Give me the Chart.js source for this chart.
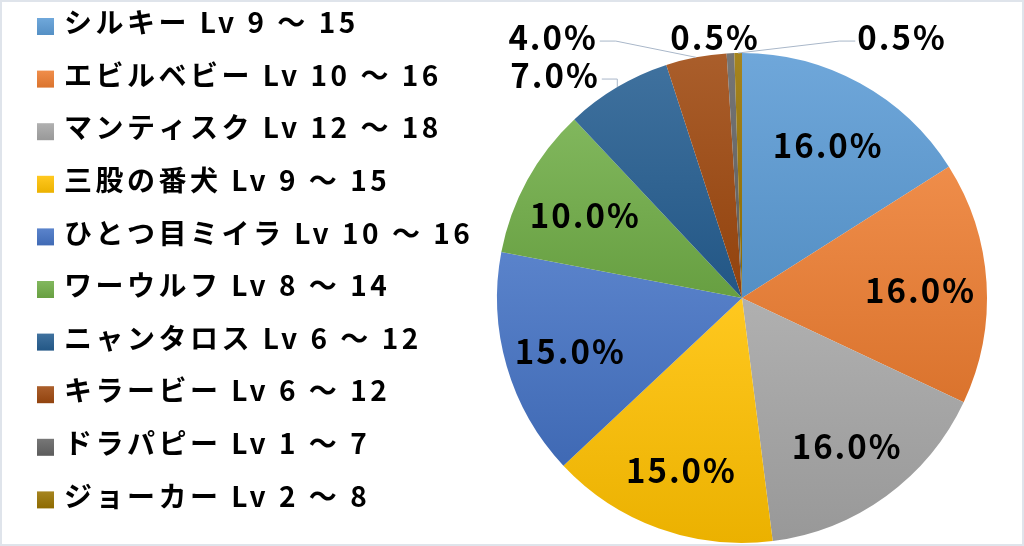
<!DOCTYPE html>
<html lang="ja">
<head>
<meta charset="utf-8">
<script src="https://cdn.jsdelivr.net/npm/chart.js@4.4.0/dist/chart.umd.min.js"></script>
<style>
    html, body { margin: 0; padding: 0; background: #fff; }
    #wrap { position: relative; width: 1024px; height: 546px; overflow: hidden; }
    #wrap:after {
        content: ''; position: absolute; left: 0; top: 0; right: 0; bottom: 0;
        border: 2px solid #dfe4eb; pointer-events: none;
    }
</style>
</head>
<body>
<div id="wrap"><canvas id="pie" width="1024" height="546"></canvas></div>
<script>
// データ
const monsters = ['シルキー', 'エビルベビー', 'マンティスク', '三股の番犬', 'ひとつ目ミイラ',
                  'ワーウルフ', 'ニャンタロス', 'キラービー', 'ドラパピー', 'ジョーカー'];
const levelRanges = ['Lv 9 ～ 15', 'Lv 10 ～ 16', 'Lv 12 ～ 18', 'Lv 9 ～ 15', 'Lv 10 ～ 16',
                     'Lv 8 ～ 14', 'Lv 6 ～ 12', 'Lv 6 ～ 12', 'Lv 1 ～ 7', 'Lv 2 ～ 8'];
const shares = [16, 16, 16, 15, 15, 10, 7, 4, 0.5, 0.5];
const sliceColors = ['#5B9BD5', '#ED7D31', '#A5A5A5', '#FFC000', '#4472C4',
                     '#70AD47', '#255E91', '#9E480E', '#636363', '#997300'];

const labels = monsters.map((m, i) => m + ' ' + levelRanges[i]);

const FONT = '"Noto Sans CJK JP", "Noto Sans", sans-serif';

// 小さい扇形のラベルは外側に置く（半径単位のオフセット）
const outsideLabels = {
    6: { dx: -0.763, dy: -0.910, line: true },
    7: { dx: -0.771, dy: -1.065, line: true },
    8: { dx: -0.110, dy: -1.065, line: false },
    9: { dx: 0.653, dy: -1.065, line: true }
};

function mix(hex, target, amt) {
    const n = parseInt(hex.slice(1), 16);
    const c = [(n >> 16) & 255, (n >> 8) & 255, n & 255];
    const t = target === 'white' ? 255 : 0;
    return 'rgb(' + c.map(v => Math.round(v + (t - v) * amt)).join(',') + ')';
}

// 扇形ごとの縦グラデーション（Excel風）
function sliceGradient(context) {
    const chart = context.chart;
    const area = chart.chartArea;
    const i = context.dataIndex;
    const base = sliceColors[i];
    if (!area) return base;
    const cx = (area.left + area.right) / 2;
    const cy = (area.top + area.bottom) / 2;
    const r = Math.min(area.width, area.height) / 2;
    const data = context.dataset.data;
    const total = data.reduce((a, b) => a + b, 0);
    const before = data.slice(0, i).reduce((a, b) => a + b, 0);
    const a0 = -Math.PI / 2 + before / total * Math.PI * 2;
    const a1 = a0 + data[i] / total * Math.PI * 2;
    const ys = [cy, cy + r * Math.sin(a0), cy + r * Math.sin(a1)];
    [Math.PI / 2, Math.PI * 3 / 2, Math.PI * 5 / 2, -Math.PI / 2].forEach(a => {
        if (a > a0 && a < a1) ys.push(cy + r * Math.sin(a));
    });
    const top = Math.min(...ys), bottom = Math.max(...ys);
    const g = chart.ctx.createLinearGradient(0, top, 0, bottom + 1);
    g.addColorStop(0, mix(base, 'white', 0.12));
    g.addColorStop(1, mix(base, 'black', 0.08));
    return g;
}

const sideLegend = {
    id: 'sideLegend',
    afterDraw(chart) {
        const ctx = chart.ctx;
        ctx.save();
        ctx.font = 'bold 28px ' + FONT;
        ctx.letterSpacing = '3.5px';
        ctx.textBaseline = 'middle';
        ctx.fillStyle = '#000';
        chart.data.labels.forEach((text, i) => {
            const y = 22.5 + i * 52.6;
            const g = ctx.createLinearGradient(0, y - 4, 0, y + 13);
            g.addColorStop(0, mix(sliceColors[i], 'white', 0.12));
            g.addColorStop(1, mix(sliceColors[i], 'black', 0.08));
            ctx.fillStyle = g;
            ctx.fillRect(37, y - 4.5, 17, 17);
            ctx.fillStyle = '#000';
            ctx.fillText(text, 64, y);
        });
        ctx.restore();
    }
};

const percentLabels = {
    id: 'percentLabels',
    afterDatasetsDraw(chart) {
        const ctx = chart.ctx;
        const meta = chart.getDatasetMeta(0);
        const data = chart.data.datasets[0].data;
        ctx.save();
        ctx.font = 'bold 33px ' + FONT;
        ctx.letterSpacing = '2px';
        ctx.textAlign = 'center';
        ctx.textBaseline = 'middle';
        meta.data.forEach((arc, i) => {
            const p = arc.getProps(['x', 'y', 'startAngle', 'endAngle', 'outerRadius'], true);
            const mid = (p.startAngle + p.endAngle) / 2;
            const text = data[i].toFixed(1) + '%';
            const out = outsideLabels[i];
            ctx.fillStyle = '#000';
            if (!out) {
                const d = p.outerRadius * 0.73;
                ctx.fillText(text, p.x + Math.cos(mid) * d, p.y + Math.sin(mid) * d + 4);
                return;
            }
            const lx = p.x + out.dx * p.outerRadius;
            const ly = p.y + out.dy * p.outerRadius;
            ctx.fillText(text, lx, ly);
            if (out.line) {
                const ex = p.x + Math.cos(mid) * p.outerRadius;
                const ey = p.y + Math.sin(mid) * p.outerRadius;
                const half = ctx.measureText(text).width / 2;
                const dir = ex > lx ? 1 : -1;
                const sx = lx + dir * (half + 2);
                const sy = ly + 4;
                let bx = sx + dir * 16;
                if ((bx - ex) * dir > 0) bx = ex;
                ctx.strokeStyle = '#a9b7c9';
                ctx.lineWidth = 1;
                ctx.beginPath();
                ctx.moveTo(sx, sy);
                ctx.lineTo(bx, sy);
                ctx.lineTo(ex, ey);
                ctx.stroke();
            }
        });
        ctx.restore();
    }
};

const chart = new Chart(document.getElementById('pie').getContext('2d'), {
    type: 'pie',
    data: {
        labels: labels,
        datasets: [{
            data: shares,
            backgroundColor: sliceGradient,
            borderWidth: 0,
            hoverOffset: 0
        }]
    },
    options: {
        responsive: false,
        animation: false,
        layout: {
            padding: { left: 497, right: 37, top: 53, bottom: 3 }
        },
        plugins: {
            legend: { display: false },
            tooltip: { enabled: false }
        }
    },
    plugins: [sideLegend, percentLabels]
});
</script>
</body>
</html>
